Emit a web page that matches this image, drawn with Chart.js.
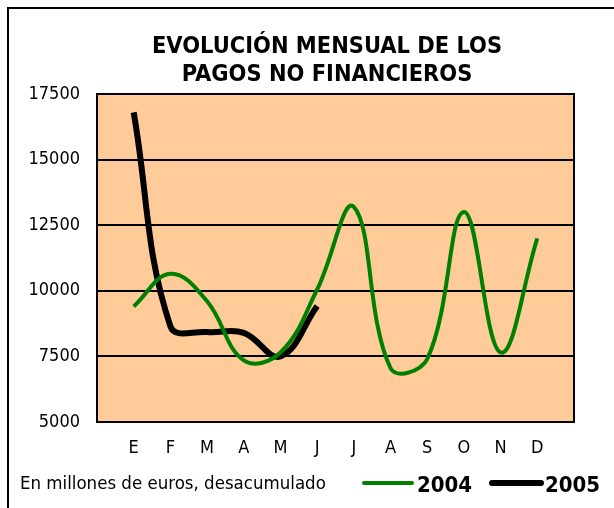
<!DOCTYPE html>
<html>
<head>
<meta charset="utf-8">
<script src="https://cdn.jsdelivr.net/npm/chart.js@4"></script>
<style>
  html, body { margin: 0; padding: 0; background: #fff; }
  #wrap { position: relative; width: 614px; height: 508px; }
</style>
</head>
<body>
<div id="wrap"><canvas id="myChart" width="614" height="508"></canvas></div>
<script>
const ctx = document.getElementById('myChart');

const FONT = "'DejaVu Sans Condensed', 'DejaVu Sans', sans-serif";

const titleLines = ['EVOLUCIÓN MENSUAL DE LOS', 'PAGOS NO FINANCIEROS'];
const months = ['E', 'F', 'M', 'A', 'M', 'J', 'J', 'A', 'S', 'O', 'N', 'D'];
const values2004 = [9400, 10650, 9600, 7350, 7650, 10050, 13200, 7050, 7400, 13000, 7650, 12000];
const values2005 = [16800, 8650, 8430, 8400, 7500, 9420];
const yTicks = [5000, 7500, 10000, 12500, 15000, 17500];

// the category axis has an empty slot on each side, like the original sheet
const labels = [''].concat(months, ['']);
const pad = (arr) => {
    const out = [null];
    for (let i = 0; i < months.length; i++) {
        out.push(i < arr.length ? arr[i] : null);
    }
    out.push(null);
    return out;
};

const frame = {
    id: 'frame',
    beforeDraw(chart) {
        const c = chart.ctx;
        const a = chart.chartArea;
        c.save();
        c.fillStyle = '#fff';
        c.fillRect(0, 0, chart.width, chart.height);
        c.strokeStyle = '#000';
        c.lineWidth = 2;
        c.strokeRect(8, 8, chart.width + 20, chart.height + 20);
        c.fillStyle = '#FFCC99';
        c.fillRect(a.left, a.top, a.right - a.left, a.bottom - a.top);
        c.restore();
    },
    afterDatasetsDraw(chart) {
        const c = chart.ctx;
        const a = chart.chartArea;
        c.save();
        c.strokeStyle = '#000';
        c.lineWidth = 2;
        c.strokeRect(a.left, a.top, a.right - a.left, a.bottom - a.top);
        c.restore();
    },
    afterDraw(chart) {
        const c = chart.ctx;
        c.save();
        c.fillStyle = '#000';
        c.textBaseline = 'alphabetic';

        // title, centred a bit left of the plot centre as in the original
        c.font = 'bold 23.4px ' + FONT;
        c.textAlign = 'center';
        c.fillText(titleLines[0], 327, 53);
        c.fillText(titleLines[1], 327, 81);

        c.textAlign = 'left';
        c.font = '18.5px ' + FONT;
        c.fillText('En millones de euros, desacumulado', 20, 489);

        const items = [
            { ds: chart.data.datasets[0], x0: 364, x1: 412, tx: 417 },
            { ds: chart.data.datasets[1], x0: 492, x1: 541, tx: 545 }
        ];
        items.forEach(it => {
            c.strokeStyle = it.ds.borderColor;
            c.lineWidth = it.ds.borderWidth;
            c.lineCap = 'round';
            c.beginPath();
            c.moveTo(it.x0, 483);
            c.lineTo(it.x1, 483);
            c.stroke();
            c.font = 'bold 22px ' + FONT;
            c.fillText(it.ds.label, it.tx, 492);
        });
        c.restore();
    }
};

new Chart(ctx, {
    type: 'line',
    data: {
        labels: labels,
        datasets: [
            {
                label: '2004',
                data: pad(values2004),
                borderColor: '#008000',
                borderWidth: 4,
                tension: 0.4,
                pointRadius: 0,
                fill: false
            },
            {
                label: '2005',
                data: pad(values2005),
                borderColor: '#000000',
                borderWidth: 6,
                tension: 0.4,
                pointRadius: 0,
                fill: false
            }
        ]
    },
    plugins: [frame],
    options: {
        responsive: false,
        animation: false,
        events: [],
        layout: {
            padding: { left: 0, right: 40, top: 94, bottom: 0 }
        },
        plugins: {
            legend: { display: false },
            tooltip: { enabled: false },
            title: { display: false }
        },
        scales: {
            x: {
                type: 'category',
                offset: false,
                grid: { display: false, drawTicks: false },
                border: { display: false },
                afterFit: (scale) => { scale.height = 86; },
                ticks: {
                    autoSkip: false,
                    maxRotation: 0,
                    padding: 16,
                    color: '#000',
                    font: { family: FONT, size: 18 }
                }
            },
            y: {
                min: 5000,
                max: 17500,
                afterFit: (scale) => { scale.width = 97; },
                afterBuildTicks: (scale) => {
                    scale.ticks = yTicks.map(v => ({ value: v }));
                },
                grid: { color: '#000', lineWidth: 2, drawTicks: false },
                border: { display: false },
                ticks: {
                    padding: 17,
                    color: '#000',
                    font: { family: FONT, size: 18 },
                    callback: (v) => String(v)
                }
            }
        }
    }
});
</script>
</body>
</html>
